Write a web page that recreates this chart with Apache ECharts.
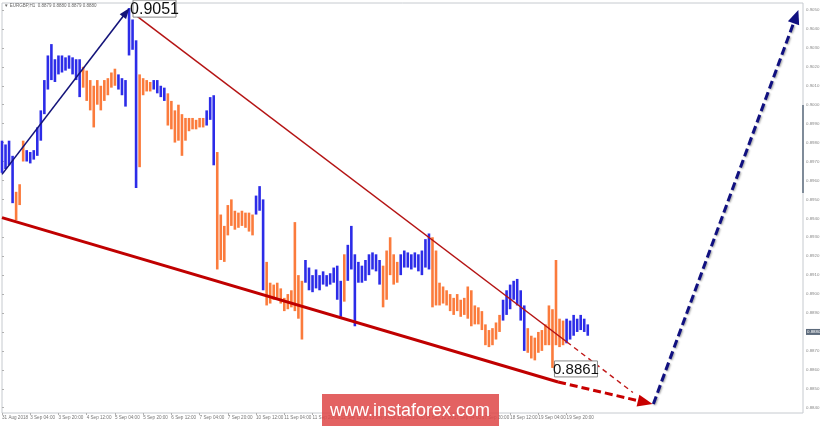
<!DOCTYPE html>
<html><head><meta charset="utf-8">
<script src="https://cdn.jsdelivr.net/npm/echarts@6/dist/echarts.min.js"></script>
<style>html,body{margin:0;padding:0;background:#fff}#c{width:820px;height:426px}</style>
</head><body><div id="c"></div>
<script>
// ---- data (2-hour bars, EURGBP H1 view) ----
const timeLabels = ['31 Aug 2018','3 Sep 04:00','3 Sep 20:00','4 Sep 12:00','5 Sep 04:00','5 Sep 20:00',
  '6 Sep 12:00','7 Sep 04:00','7 Sep 20:00','10 Sep 12:00','11 Sep 04:00','11 Sep 20:00','12 Sep 12:00',
  '13 Sep 04:00','13 Sep 20:00','14 Sep 12:00','17 Sep 04:00','17 Sep 20:00','18 Sep 12:00','19 Sep 04:00','19 Sep 20:00'];
const priceTicks = [0.8840,0.8850,0.8860,0.8870,0.8880,0.8890,0.8900,0.8910,0.8920,0.8930,0.8940,
  0.8950,0.8960,0.8970,0.8980,0.8990,0.9000,0.9010,0.9020,0.9030,0.9040,0.9050];
const highs = [
0.8981,0.8979,0.8981,0.8973,0.8954,0.8958,0.8981,0.8976,0.8975,0.8976,
0.8988,0.8997,0.9013,0.9026,0.9032,0.9024,0.9026,0.9026,0.9025,0.9026,
0.9025,0.9024,0.9024,0.9020,0.9018,0.9013,0.9010,0.9013,0.9010,0.9013,
0.9014,0.9017,0.9019,0.9016,0.9014,0.9013,0.9051,0.9045,0.9034,0.9016,
0.9014,0.9013,0.9012,0.9013,0.9013,0.9010,0.9009,0.9006,0.9002,0.8997,
0.9000,0.8995,0.8993,0.8993,0.8993,0.8992,0.8993,0.8993,0.8997,0.9004,
0.9005,0.8975,0.8942,0.8936,0.8947,0.8950,0.8944,0.8943,0.8944,0.8943,
0.8943,0.8942,0.8952,0.8957,0.8950,0.8917,0.8906,0.8905,0.8906,0.8903,
0.8898,0.8900,0.8902,0.8938,0.8910,0.8907,0.8918,0.8914,0.8910,0.8913,
0.8910,0.8912,0.8910,0.8911,0.8914,0.8915,0.8907,0.8921,0.8926,0.8936,
0.8921,0.8917,0.8915,0.8918,0.8921,0.8922,0.8921,0.8918,0.8915,0.8923,
0.8930,0.8921,0.8917,0.8921,0.8923,0.8922,0.8921,0.8922,0.8921,0.8923,
0.8929,0.8932,0.8930,0.8923,0.8906,0.8904,0.8902,0.8900,0.8898,0.8900,
0.8897,0.8898,0.8904,0.8902,0.8894,0.8893,0.8891,0.8884,0.8881,0.8882,
0.8885,0.8889,0.8897,0.8902,0.8905,0.8907,0.8908,0.8902,0.8894,0.8882,
0.8878,0.8877,0.8880,0.8881,0.8884,0.8894,0.8892,0.8918,0.8887,0.8886,
0.8887,0.8886,0.8889,0.8887,0.8889,0.8887,0.8884];
const lows = [
0.8964,0.8966,0.8968,0.8948,0.8939,0.8947,0.8970,0.8970,0.8969,0.8971,
0.8973,0.8981,0.8995,0.9008,0.9013,0.9012,0.9016,0.9017,0.9018,0.9019,
0.9016,0.9013,0.9004,0.9009,0.9002,0.8997,0.8988,0.9000,0.8997,0.9002,
0.9005,0.9009,0.9010,0.9008,0.9005,0.8999,0.9026,0.9029,0.8956,0.8967,
0.9005,0.9007,0.9007,0.9008,0.9006,0.9004,0.9002,0.8989,0.8987,0.8980,
0.8981,0.8973,0.8981,0.8986,0.8987,0.8987,0.8988,0.8988,0.8989,0.8992,
0.8968,0.8913,0.8918,0.8917,0.8931,0.8936,0.8934,0.8935,0.8936,0.8935,
0.8933,0.8931,0.8942,0.8944,0.8902,0.8894,0.8895,0.8897,0.8898,0.8895,
0.8891,0.8892,0.8893,0.8891,0.8887,0.8876,0.8906,0.8902,0.8901,0.8903,
0.8902,0.8905,0.8904,0.8905,0.8906,0.8897,0.8888,0.8896,0.8907,0.8913,
0.8883,0.8906,0.8906,0.8907,0.8910,0.8913,0.8912,0.8905,0.8893,0.8897,
0.8910,0.8905,0.8906,0.8910,0.8914,0.8914,0.8913,0.8914,0.8912,0.8910,
0.8914,0.8913,0.8893,0.8894,0.8894,0.8895,0.8894,0.8891,0.8889,0.8891,
0.8888,0.8889,0.8887,0.8883,0.8884,0.8884,0.8881,0.8873,0.8872,0.8873,
0.8876,0.8880,0.8886,0.8889,0.8892,0.8897,0.8894,0.8886,0.8870,0.8869,
0.8866,0.8865,0.8869,0.8870,0.8873,0.8873,0.8861,0.8873,0.8872,0.8873,
0.8874,0.8876,0.8878,0.8880,0.8881,0.8880,0.8878];
const upWaves = [[0,3],[7,22],[33,38],[43,46],[58,60],[72,74],[86,96],[98,107],[113,121],[142,148],[160,166]];
const lastPrice = 0.8880;
const peak = {x:36, value:0.9051, text:'0.9051'};
const trough = {x:156, value:0.8861, text:'0.8861'};
const header = '\u25BC EURGBP,H1  0.8879 0.8880 0.8879 0.8880';

// ---- chart ----
const FONT = '"Liberation Sans", Arial, sans-serif';
const BLUE = '#2c2ce8', ORANGE = '#fb7b3c';
const isUp = i => upWaves.some(r => i >= r[0] && i <= r[1]);
const barData = highs.map((h, i) => [i, lows[i], h, isUp(i) ? 1 : 0]);

const chart = echarts.init(document.getElementById('c'));
function pt(x, y, extra) { return Object.assign({coord:[x, y], symbol:'none'}, extra || {}); }
chart.setOption({
  animation: false,
  backgroundColor: '#fff',
  grid: {left: 2, right: 17, top: 3, bottom: 13, show: true, borderColor: '#c6cacf', borderWidth: 1,
    containLabel: false, outerBoundsMode: 'none'},
  xAxis: {
    type: 'value', min: 0, max: 227,
    axisLine: {show: false}, splitLine: {show: false},
    axisTick: {show: true, length: 2, lineStyle: {color: '#b0b0b0'}, customValues: timeLabels.map((_, k) => k * 8)},
    axisLabel: {customValues: timeLabels.map((_, k) => k * 8), formatter: v => timeLabels[Math.round(v / 8)] || '',
      align: 'left', margin: 2, fontSize: 4.6, color: '#777', fontFamily: FONT}
  },
  yAxis: {
    type: 'value', position: 'right', min: 0.88372, max: 0.90537,
    axisLine: {show: false}, splitLine: {show: false},
    axisTick: {show: true, length: 2, lineStyle: {color: '#b0b0b0'}, customValues: priceTicks},
    axisLabel: {customValues: priceTicks, margin: 3, fontSize: 4.4, color: '#888', fontFamily: FONT,
      formatter: v => Math.abs(v - lastPrice) < 1e-9 ? '{hl|' + v.toFixed(4) + '}' : v.toFixed(4),
      rich: {hl: {backgroundColor: '#5d6b7c', color: '#fff', fontSize: 4.4, padding: [1, 1], fontFamily: FONT}}}
  },
  series: [{
    type: 'custom',
    data: barData,
    encode: {x: 0, y: [1, 2]},
    renderItem: (params, api) => {
      const x = api.value(0);
      const a = api.coord([x, api.value(1)]), b = api.coord([x, api.value(2)]);
      return {type: 'line', shape: {x1: a[0], y1: a[1], x2: b[0], y2: b[1]},
        style: {stroke: api.value(3) ? BLUE : ORANGE, lineWidth: 2.6}};
    },
    markLine: {
      silent: true, animation: false, label: {show: false},
      data: [
        [pt(0, 0.89632, {lineStyle: {color: '#14147a', width: 1.6, type: 'solid'}}),
         pt(35.2, 0.90488, {symbol: 'triangle', symbolSize: [8, 11]})],
        [pt(37.1, 0.90484, {lineStyle: {color: '#b51414', width: 1.5, type: 'solid'}}), pt(160.1, 0.88747)],
        [pt(160.1, 0.88747, {lineStyle: {color: '#c01818', width: 1.4, type: [5, 4]}}), pt(178.8, 0.88480)],
        [pt(0, 0.89404, {lineStyle: {color: '#c00000', width: 3, type: 'solid'}}), pt(157.6, 0.88536)],
        [pt(157.6, 0.88536, {lineStyle: {color: '#c80000', width: 3, type: [8, 4]}}),
         pt(182.3, 0.88428, {symbol: 'triangle', symbolSize: [12, 15]})],
        [pt(184.6, 0.88420, {lineStyle: {color: '#101080', width: 3, type: [8, 4],
            shadowColor: 'rgba(0,0,0,0.35)', shadowBlur: 2, shadowOffsetX: 1, shadowOffsetY: 1}}),
         pt(225.0, 0.90465, {symbol: 'triangle', symbolSize: [12, 14]})]
      ]
    }
  }]
});

function labelBox(p, dx, dy, w, h, size) {
  const c = chart.convertToPixel({gridIndex: 0}, [p.x, p.value]);
  const x = c[0] + dx, y = c[1] + dy;
  return [
    {type: 'rect', z: 50, shape: {x: x, y: y, width: w, height: h}, style: {fill: '#fff', stroke: '#8a8a8a', lineWidth: 1}},
    {type: 'text', z: 51, style: {x: x + w / 2, y: y + h / 2 + 1, text: p.text, fill: '#111', font: size + 'px ' + FONT,
      align: 'center', verticalAlign: 'middle'}}
  ];
}
chart.setOption({
  graphic: [].concat(
    labelBox(peak, 4, -8, 43, 17, 16),
    labelBox(trough, 2, -7, 43, 16, 15),
    [
      {type: 'rect', z: 40, shape: {x: 802, y: 105, width: 2, height: 88}, style: {fill: '#7f8b99'}},
      {type: 'text', z: 40, style: {x: 4, y: 3, text: header, fill: '#666', font: '4.5px ' + FONT}},
      {type: 'rect', z: 60, shape: {x: 322, y: 394, width: 177, height: 32}, style: {fill: 'rgba(222,72,72,0.86)'}},
      {type: 'text', z: 61, style: {x: 410, y: 411, text: 'www.instaforex.com', fill: '#fff', font: '18px ' + FONT,
        align: 'center', verticalAlign: 'middle'}}
    ]
  )
});
</script></body></html>
